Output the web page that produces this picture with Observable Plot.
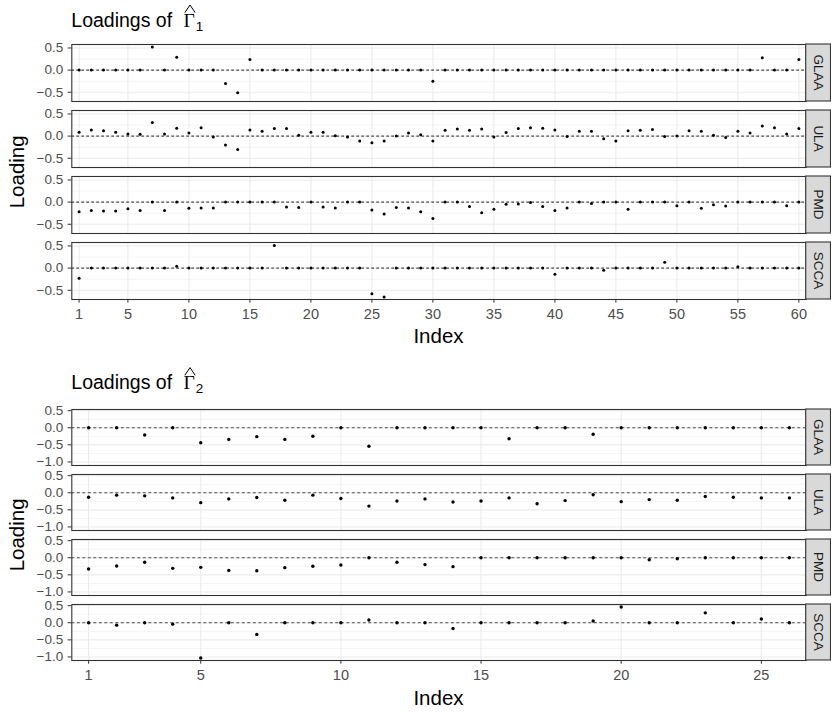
<!DOCTYPE html>
<html><head><meta charset="utf-8">
<script src="https://cdn.jsdelivr.net/npm/d3@7"></script>
<script src="https://cdn.jsdelivr.net/npm/@observablehq/plot@0.6"></script>
<style>
body{margin:0;background:#fff;}
#wrap{position:relative;width:831px;height:713px;overflow:hidden;font-family:"Liberation Sans",Arial,sans-serif;}
#wrap svg{position:absolute;left:0;}
#wrap g[aria-label="x-axis tick"] path, #wrap g[aria-label="y-axis tick"] path{stroke:#333333;}
</style></head><body><div id="wrap"></div>
<script>
const methods = ["GLAA", "ULA", "PMD", "SCCA"];

// Chart 1: loadings of Gamma-hat 1 (index 1..60)
const index1 = [1,2,3,4,5,6,7,8,9,10,11,12,13,14,15,16,17,18,19,20,21,22,23,24,25,26,27,28,29,30,
  31,32,33,34,35,36,37,38,39,40,41,42,43,44,45,46,47,48,49,50,51,52,53,54,55,56,57,58,59,60];
const g1GLAA = [0,0,0,0,0,0,0.52,0,0.29,0, 0,0,-0.30,-0.51,0.24,0,0,0,0,0,
  0,0,0,0,0,0,0,0,0,-0.25, 0,0,0,0,0,0,0,0,0,0, 0,0,0,0,0,0,0,0,0,0, 0,0,0,0,0,0,0.28,0,0,0.24];
const g1ULA = [0.09,0.14,0.12,0.09,0.05,0.04,0.31,0.05,0.18,0.07, 0.19,-0.02,-0.20,-0.30,0.14,0.11,0.17,0.17,0.02,0.09,
  0.09,0.01,-0.02,-0.11,-0.15,-0.11,0.00,0.07,0.03,-0.11, 0.13,0.16,0.13,0.16,-0.02,0.08,0.17,0.19,0.18,0.14,
  -0.01,0.11,0.11,-0.06,-0.11,0.12,0.13,0.15,-0.01,0.00, 0.12,0.11,0.02,-0.03,0.11,0.07,0.23,0.19,0.05,0.17];
const g1PMD = [-0.22,-0.19,-0.20,-0.20,-0.15,-0.19,0,-0.19,0,-0.14, -0.13,-0.13,0,0,0,0,0,-0.11,-0.12,0,
  -0.11,-0.13,0,0,-0.18,-0.27,-0.12,-0.13,-0.22,-0.37, 0,0,-0.10,-0.24,-0.16,-0.05,-0.04,-0.01,-0.10,-0.19,
  -0.13,0,-0.03,0,0,-0.16,0,0,0,-0.08, 0,-0.14,-0.06,-0.09,0,0,0,0,-0.08,0];
const g1SCCA = [-0.23,0,0,0,0,0,0,0,0.04,0, 0,0,0,0,0,0,0.51,0,0,0,
  0,0,0,0,-0.58,-0.65,0,0,0,0, 0,0,0,0,0,0,0,0,0,-0.14,
  0,0,0,-0.05,0,0,0,0,0.13,0, 0,0,0,0,0.03,0,0,0,0,0];
const xTicks1 = [1,5,10,15,20,25,30,35,40,45,50,55,60];
const yTicks1 = [-0.5, 0, 0.5];
const yMinor1 = [-0.25, 0.25];

// Chart 2: loadings of Gamma-hat 2 (index 1..26)
const index2 = [1,2,3,4,5,6,7,8,9,10,11,12,13,14,15,16,17,18,19,20,21,22,23,24,25,26];
const g2GLAA = [0,0,-0.21,0,-0.44,-0.34,-0.26,-0.34,-0.25,0,-0.54,0,0,0,0,-0.32,0,0,-0.19,0,0,0,0,0,0,0];
const g2ULA = [-0.13,-0.07,-0.09,-0.15,-0.29,-0.18,-0.14,-0.22,-0.07,-0.17,-0.39,-0.24,-0.18,-0.27,-0.24,-0.15,-0.32,-0.23,-0.06,-0.26,-0.20,-0.22,-0.11,-0.13,-0.15,-0.15];
const g2PMD = [-0.33,-0.24,-0.13,-0.31,-0.28,-0.37,-0.38,-0.29,-0.25,-0.21,0,-0.13,-0.20,-0.26,0,0,0,0,0,0,-0.06,-0.03,0,0,0,0];
const g2SCCA = [0,-0.07,0,-0.04,-1.03,0,-0.34,0,0,0,0.08,0,0,-0.17,0,0,0,0,0.05,0.46,0,0,0.29,0,0.11,0];
const xTicks2 = [1,5,10,15,20,25];
const yTicks2 = [-1, -0.5, 0, 0.5];
const yMinor2 = [-0.75, -0.25, 0.25];

const FONT = '"Liberation Sans", Arial, sans-serif';
const wrap = document.getElementById("wrap");

function chart(cfg) {
  const rows = [];
  methods.forEach((m, k) => cfg.values[k].forEach((v, i) => rows.push({method: m, index: cfg.index[i], value: v})));
  const [lo, hi] = d3.extent(rows, d => d.value);
  const pad = (hi - lo) * 0.05;
  const n = cfg.index.length;
  const plot = Plot.plot({
    width: 831, height: cfg.height,
    marginTop: cfg.mTop, marginBottom: cfg.mBottom, marginLeft: 71.3, marginRight: 25.3,
    style: {fontFamily: FONT, fontSize: "14px", background: "transparent", color: "#4D4D4D"},
    x: {domain: [cfg.index[0] - 0.6, cfg.index[n - 1] + 0.6]},
    y: {domain: [lo - pad, hi + pad]},
    fy: {domain: methods, paddingInner: 0.14, paddingOuter: 0, axis: null},
    marks: [
      Plot.ruleY(cfg.yMinor, {stroke: "#EBEBEB", strokeWidth: 0.55}),
      Plot.ruleY(cfg.yTicks, {stroke: "#EBEBEB", strokeWidth: 1.07}),
      Plot.ruleX(cfg.xTicks, {stroke: "#EBEBEB", strokeWidth: 1.07}),
      Plot.ruleY([0], {stroke: cfg.zStroke, strokeWidth: cfg.zWidth, strokeDasharray: cfg.zDash}),
      Plot.dot(rows, {x: "index", y: "value", fy: "method", r: cfg.r, fill: "black", stroke: null}),
      Plot.frame({stroke: "#333333", strokeWidth: 1.1}),
      Plot.axisY({ticks: cfg.yTicks, tickFormat: d3.format(".1f"), tickSize: 3.7, tickPadding: 4.9, label: null, fontSize: 13.5}),
      Plot.axisX({ticks: cfg.xTicks, tickSize: 3.7, tickPadding: 5.3, label: null, fontSize: 14.5})
    ]
  });
  plot.style.top = cfg.top + "px";
  const svg = d3.select(plot);
  const fy = plot.scale("fy");
  methods.forEach(m => {
    const y0 = fy.apply(m);
    svg.append("rect").attr("x", 805.7).attr("y", y0).attr("width", 24.8).attr("height", fy.bandwidth)
      .attr("fill", "#D9D9D9").attr("stroke", "#333333").attr("stroke-width", 1.1);
    svg.append("text").attr("transform", `translate(818.3,${y0 + fy.bandwidth / 2}) rotate(90)`)
      .attr("text-anchor", "middle").attr("dominant-baseline", "central")
      .attr("font-family", FONT).attr("font-size", 13.5).attr("fill", "#1A1A1A").text(m);
  });
  // title: "Loadings of Γ̂_k"
  const t = svg.append("text").attr("x", 71.3).attr("y", cfg.titleY).attr("text-anchor", "start")
    .attr("font-family", FONT).attr("font-size", 19.5).attr("fill", "#000");
  t.append("tspan").text("Loadings of ");
  t.append("tspan").attr("dx", 6).attr("font-family", '"Liberation Serif", "Times New Roman", serif').text("\u0393");
  t.append("tspan").attr("dy", 4).attr("dx", 1).attr("font-size", 13.5).text(cfg.sub);
  // wide hat over Γ
  const hx = 190, hy = cfg.titleY;
  svg.append("path").attr("d", `M${hx - 5.2},${hy - 14} L${hx},${hy - 21.7} L${hx + 5.2},${hy - 14}`)
    .attr("fill", "none").attr("stroke", "#000").attr("stroke-width", 1);
  // axis titles
  svg.append("text").attr("x", 438.5).attr("y", cfg.height - cfg.mBottom + 43.3).attr("text-anchor", "middle")
    .attr("font-family", FONT).attr("font-size", 20.5).attr("fill", "#000").text("Index");
  const cy = (cfg.mTop + cfg.height - cfg.mBottom) / 2;
  svg.append("text").attr("transform", `translate(24,${cy}) rotate(-90)`).attr("text-anchor", "middle")
    .attr("font-family", FONT).attr("font-size", 20.5).attr("fill", "#000").text("Loading");
  wrap.appendChild(plot);
}

chart({values: [g1GLAA, g1ULA, g1PMD, g1SCCA], index: index1, xTicks: xTicks1, yTicks: yTicks1, yMinor: yMinor1,
  top: 0, height: 356, mTop: 44.3, mBottom: 56.7, r: 1.5, zStroke: "#4d4d4d", zWidth: 1.2, zDash: "2.7,2.3",
  titleY: 26.7, sub: "1"});
chart({values: [g2GLAA, g2ULA, g2PMD, g2SCCA], index: index2, xTicks: xTicks2, yTicks: yTicks2, yMinor: yMinor2,
  top: 356, height: 357, mTop: 51.7, mBottom: 51, r: 1.7, zStroke: "#222", zWidth: 0.8, zDash: "3,2.5",
  titleY: 33.3, sub: "2"});
</script></body></html>
